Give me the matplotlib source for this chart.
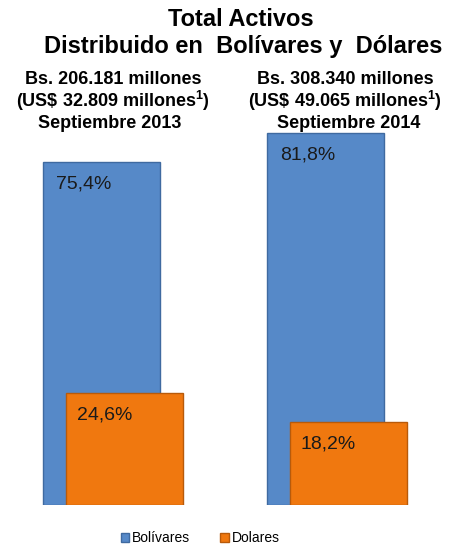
import numpy as np
import matplotlib
matplotlib.use("Agg")
import matplotlib.pyplot as plt
from matplotlib.patches import Patch

plt.rcParams['font.family'] = ['Liberation Sans', 'DejaVu Sans']
plt.rcParams['mathtext.fontset'] = 'custom'
plt.rcParams['mathtext.bf'] = 'Liberation Sans:bold'
plt.rcParams['mathtext.rm'] = 'Liberation Sans:bold'

# Datos del grafico
periodos = ['Septiembre 2013', 'Septiembre 2014']
bolivares = [75.4, 81.8]
dolares = [24.6, 18.2]
etiquetas_bs = ['75,4%', '81,8%']
etiquetas_us = ['24,6%', '18,2%']
totales_bs = ['Bs. 206.181 millones', 'Bs. 308.340 millones']
totales_us = ['(US\\$ 32.809 millones$^{\\mathbf{1}}$)',
              '(US\\$ 49.065 millones$^{\\mathbf{1}}$)']

azul = '#5689c8'
azul_borde = '#3f6aa0'
naranja = '#f0780f'
naranja_borde = '#b85a0a'

fig = plt.figure(figsize=(4.53, 5.46), dpi=100)
ax = fig.add_axes([0.0015, 0.0751, 0.989, 0.75])

x = np.arange(len(periodos))
desp = 0.103
ancho = 0.522

barras_bs = ax.bar(x - desp / 2, bolivares, width=ancho, color=azul,
                   edgecolor=azul_borde, linewidth=1.0, zorder=2)
barras_us = ax.bar(x + desp / 2, dolares, width=ancho, color=naranja,
                   edgecolor=naranja_borde, linewidth=1.0, zorder=3)

# Etiquetas dentro de las barras (esquina superior izquierda)
for b, txt in zip(barras_bs, etiquetas_bs):
    ax.annotate(txt, (b.get_x(), b.get_height()), xytext=(13, -22),
                textcoords='offset pixels', ha='left', va='center',
                fontsize=14, color='#1a1a1a', zorder=5)
for b, txt in zip(barras_us, etiquetas_us):
    ax.annotate(txt, (b.get_x(), b.get_height()), xytext=(11, -22),
                textcoords='offset pixels', ha='left', va='center',
                fontsize=14, color='#1a1a1a', zorder=5)

ax.set_xlim(-0.5, 1.5)
ax.set_ylim(0, 90)
ax.axis('off')

# Titulos
fig.text(0.532, 1 - 20 / 546, 'Total Activos', ha='center', va='center',
         fontsize=17, fontweight='bold')
fig.text(0.537, 1 - 46 / 546, 'Distribuido en  Bol\u00edvares y  D\u00f3lares',
         ha='center', va='center', fontsize=17, fontweight='bold')

# Subtitulos por periodo
for xc, xp, l1, l2, l3 in zip([113, 345], [110, 349], totales_bs, totales_us, periodos):
    fig.text(xc / 453, 1 - 80 / 546, l1, ha='center', va='center',
             fontsize=13, fontweight='bold')
    fig.text(xc / 453, 1 - 101 / 546, l2, ha='center', va='center',
             fontsize=13, fontweight='bold')
    fig.text(xp / 453, 1 - 123 / 546, l3, ha='center', va='center',
             fontsize=13, fontweight='bold')

handles = [Patch(facecolor=azul, edgecolor=azul_borde, label='Bol\u00edvares'),
           Patch(facecolor=naranja, edgecolor=naranja_borde, label='Dolares')]
fig.legend(handles=handles, loc='center', bbox_to_anchor=(200 / 453, 1 - 538 / 546),
           ncol=2, frameon=False, fontsize=10, handlelength=0.6, handleheight=0.6,
           handletextpad=0.2, columnspacing=2.2)

plt.savefig('out.png', dpi=100)
